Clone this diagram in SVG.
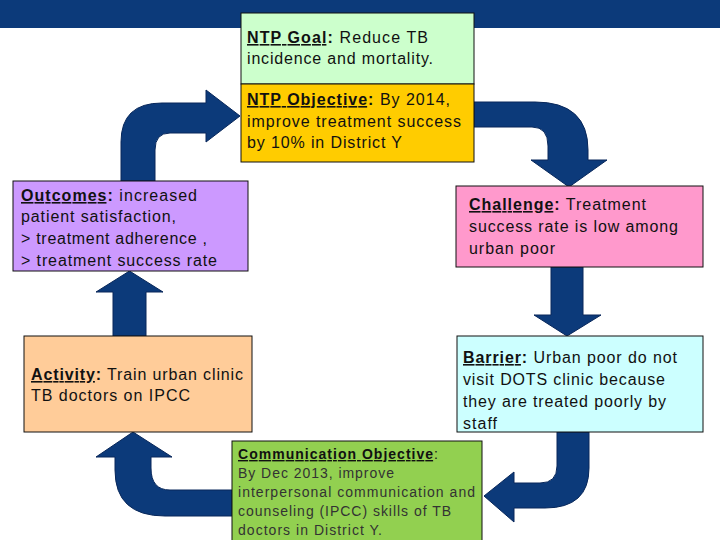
<svg xmlns="http://www.w3.org/2000/svg" width="720" height="540" viewBox="0 0 720 540">
<style>
.box{stroke:#111;stroke-width:1}
.t{font-family:"Liberation Sans",Arial,sans-serif;font-size:16px;fill:#111}
.c{font-family:"Liberation Sans",Arial,sans-serif;font-size:14px;fill:#333}
.h{font-weight:bold;text-decoration:underline}
.b{font-weight:bold}
.arr{fill:#0c3a7a;stroke:#08275a;stroke-width:1}
</style>
<rect x="0" y="0" width="720" height="540" fill="#fff"/>
<rect id="topbar" x="0" y="0" width="720" height="28" fill="#0c3a7a"/>
<g id="connectors">
<path class="arr" d="M121,181 L121,142 Q121,103 162,103 L206,103 L206,90 L240,116 L206,142 L206,133 L170,133 Q155,133 155,150 L155,181 Z"/>
<path class="arr" d="M474,102 L535,102 Q588,102 588,150 L588,160 L607,160 L569,187 L531,160 L548,160 L548,146 Q548,127 532,127 L474,127 Z"/>
<path class="arr" d="M551,267 L583,267 L583,315 L601,315 L567,336 L534,315 L551,315 Z"/>
<path class="arr" d="M557,432 L589,432 L589,468 Q589,508 545,508 L514,508 L514,522 L484,496 L514,472 L514,483 L540,483 Q557,483 557,466 Z"/>
<path class="arr" d="M232,490 L170,490 Q151,490 151,468 L151,457 L172,457 L133,432 L96,457 L115,457 L115,470 Q115,516 165,516 L232,516 Z"/>
<path class="arr" d="M113,336 L113,292 L96,292 L129.5,271 L163,292 L146,292 L146,336 Z"/>
</g>
<g id="goal">
<rect class="box" x="241" y="13" width="233" height="71" fill="#ccffcc"/>
<text class="t" x="247" y="43" textLength="181" lengthAdjust="spacing"><tspan class="h">NTP Goal</tspan><tspan class="b">:</tspan> Reduce TB</text>
<text class="t" x="247" y="64" textLength="186" lengthAdjust="spacing">incidence and mortality.</text>
</g>
<g id="objective">
<rect class="box" x="241" y="84" width="233" height="78" fill="#ffcc00"/>
<text class="t" x="247" y="105" textLength="203" lengthAdjust="spacing"><tspan class="h">NTP Objective</tspan><tspan class="b">:</tspan> By 2014,</text>
<text class="t" x="247" y="127" textLength="214" lengthAdjust="spacing">improve treatment success</text>
<text class="t" x="247" y="148" textLength="155" lengthAdjust="spacing">by 10% in District Y</text>
</g>
<g id="outcomes">
<rect class="box" x="13" y="181" width="235" height="90" fill="#cc99ff"/>
<text class="t" x="21" y="201" textLength="176" lengthAdjust="spacing"><tspan class="h">Outcomes</tspan><tspan class="b">:</tspan> increased</text>
<text class="t" x="21" y="222" textLength="155" lengthAdjust="spacing">patient satisfaction,</text>
<text class="t" x="21" y="244" textLength="186" lengthAdjust="spacing">&gt; treatment adherence ,</text>
<text class="t" x="21" y="266" textLength="196" lengthAdjust="spacing">&gt; treatment success rate</text>
</g>
<g id="challenge">
<rect class="box" x="456" y="186" width="247" height="81" fill="#ff99cc"/>
<text class="t" x="469" y="210" textLength="177" lengthAdjust="spacing"><tspan class="h">Challenge</tspan><tspan class="b">:</tspan> Treatment</text>
<text class="t" x="469" y="232" textLength="209" lengthAdjust="spacing">success rate is low among</text>
<text class="t" x="469" y="254" textLength="86" lengthAdjust="spacing">urban poor</text>
</g>
<g id="barrier">
<rect class="box" x="457" y="336" width="246" height="96" fill="#ccffff"/>
<text class="t" x="463" y="363" textLength="214" lengthAdjust="spacing"><tspan class="h">Barrier</tspan><tspan class="b">:</tspan> Urban poor do not</text>
<text class="t" x="463" y="385" textLength="202" lengthAdjust="spacing">visit DOTS clinic because</text>
<text class="t" x="463" y="407" textLength="203" lengthAdjust="spacing">they are treated poorly by</text>
<text class="t" x="463" y="429" textLength="34" lengthAdjust="spacing">staff</text>
</g>
<g id="activity">
<rect class="box" x="24" y="336" width="228" height="96" fill="#ffcc99"/>
<text class="t" x="31" y="380" textLength="212" lengthAdjust="spacing"><tspan class="h">Activity</tspan><tspan class="b">:</tspan> Train urban clinic</text>
<text class="t" x="31" y="401" textLength="159" lengthAdjust="spacing">TB doctors on IPCC</text>
</g>
<g id="communication">
<rect class="box" x="232" y="441" width="250" height="110" fill="#92d050"/>
<text class="c" x="238" y="459" textLength="200" lengthAdjust="spacing"><tspan class="h" fill="#111">Communication Objective</tspan><tspan fill="#111">:</tspan></text>
<text class="c" x="238" y="478" textLength="156" lengthAdjust="spacing">By Dec 2013, improve</text>
<text class="c" x="238" y="497" textLength="237" lengthAdjust="spacing">interpersonal communication and</text>
<text class="c" x="238" y="516" textLength="213" lengthAdjust="spacing">counseling (IPCC) skills of TB</text>
<text class="c" x="238" y="535" textLength="144" lengthAdjust="spacing">doctors in District Y.</text>
</g>
</svg>
